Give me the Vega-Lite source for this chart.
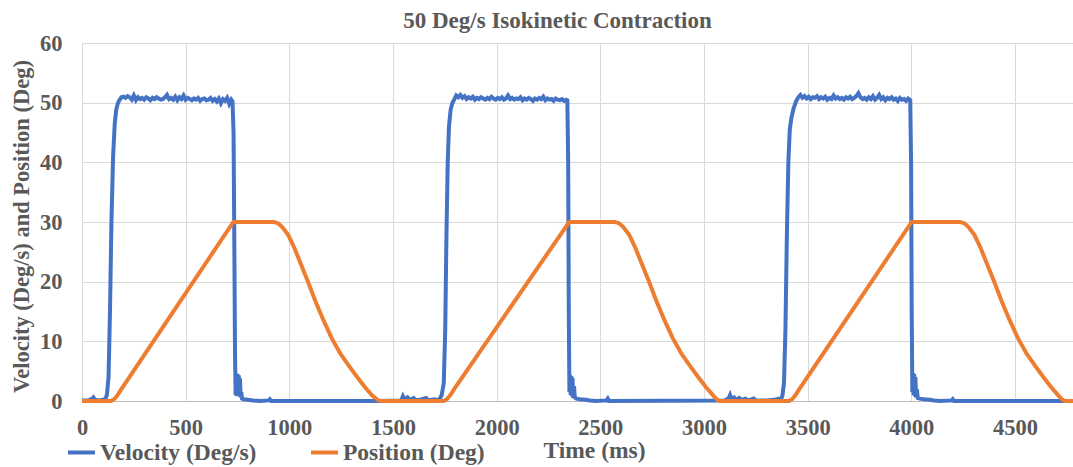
{
  "$schema": "https://vega.github.io/schema/vega-lite/v6.json",
  "width": 991,
  "height": 358,
  "autosize": {"type": "none"},
  "padding": {"left": 82, "top": 43, "right": 0, "bottom": 66},
  "background": "white",
  "title": {
    "text": "50 Deg/s Isokinetic Contraction",
    "font": "Liberation Serif",
    "fontSize": 23,
    "fontWeight": "bold",
    "color": "#595959",
    "anchor": "middle",
    "frame": "group",
    "dx": -20,
    "offset": 0,
    "baseline": "alphabetic",
    "dy": 19
  },
  "datasets": {
    "vel": [
      {"t":0,"y":0.1},{"t":30,"y":0.1},{"t":45,"y":0.3},{"t":55,"y":0.6},{"t":62,"y":0.2},{"t":80,"y":0.1},{"t":100,"y":0.2},{"t":112,"y":0.3},
      {"t":120,"y":1.0},{"t":128,"y":4},{"t":135,"y":15},{"t":142,"y":30},{"t":150,"y":41},{"t":158,"y":46.5},{"t":165,"y":48.8},{"t":172,"y":49.8},
      {"t":180,"y":50.4},{"t":190,"y":50.9},{"t":200,"y":51.0},{"t":210,"y":50.8},{"t":220,"y":51.1},{"t":230,"y":50.9},{"t":240,"y":50.5},{"t":250,"y":51.2},
      {"t":260,"y":50.4},{"t":270,"y":50.9},{"t":280,"y":50.6},{"t":290,"y":50.8},{"t":300,"y":50.5},{"t":310,"y":50.9},{"t":320,"y":50.7},{"t":330,"y":50.4},
      {"t":340,"y":50.8},{"t":350,"y":50.6},{"t":360,"y":50.9},{"t":370,"y":50.7},{"t":380,"y":50.5},{"t":390,"y":50.6},{"t":400,"y":50.9},{"t":410,"y":51.3},
      {"t":420,"y":50.6},{"t":430,"y":50.8},{"t":440,"y":50.5},{"t":450,"y":51.0},{"t":460,"y":50.4},{"t":470,"y":50.9},{"t":480,"y":50.6},{"t":490,"y":51.2},
      {"t":500,"y":50.5},{"t":510,"y":50.8},{"t":520,"y":50.6},{"t":530,"y":50.4},{"t":540,"y":50.7},{"t":550,"y":50.5},{"t":560,"y":50.8},{"t":570,"y":50.3},
      {"t":580,"y":50.6},{"t":590,"y":50.7},{"t":600,"y":50.4},{"t":610,"y":50.5},{"t":620,"y":50.8},{"t":630,"y":50.3},{"t":640,"y":50.6},{"t":650,"y":50.2},
      {"t":660,"y":50.7},{"t":670,"y":49.9},{"t":680,"y":50.6},{"t":690,"y":50.3},{"t":700,"y":50.8},{"t":710,"y":49.8},{"t":720,"y":50.5},{"t":726,"y":50.2},
      {"t":731,"y":45},{"t":735,"y":25},{"t":738,"y":8},{"t":741,"y":1.0},{"t":744,"y":4.6},{"t":747,"y":0.8},{"t":750,"y":4.5},{"t":753,"y":1.2},
      {"t":756,"y":4.3},{"t":759,"y":0.9},{"t":762,"y":3.8},{"t":765,"y":0.6},{"t":768,"y":1.5},{"t":772,"y":0.4},{"t":780,"y":0.3},{"t":800,"y":0.2},
      {"t":825,"y":0.1},{"t":860,"y":0},{"t":900,"y":0.1},{"t":906,"y":0.3},{"t":912,"y":0},{"t":1440,"y":0},
      {"t":1540,"y":0.1},{"t":1548,"y":0.8},{"t":1556,"y":0.3},{"t":1570,"y":0.6},{"t":1580,"y":0.2},{"t":1600,"y":0.5},{"t":1612,"y":0.1},{"t":1640,"y":0.3},
      {"t":1660,"y":0.5},{"t":1670,"y":0.1},{"t":1700,"y":0.3},{"t":1715,"y":0.1},{"t":1726,"y":0.4},{"t":1735,"y":1.0},{"t":1745,"y":3},{"t":1752,"y":12},
      {"t":1758,"y":28},{"t":1764,"y":40},{"t":1770,"y":46},{"t":1778,"y":48.8},{"t":1786,"y":49.9},
      {"t":1795,"y":50.5},{"t":1805,"y":51.2},{"t":1815,"y":50.9},{"t":1825,"y":51.3},{"t":1835,"y":50.8},{"t":1845,"y":51.1},{"t":1855,"y":50.6},{"t":1865,"y":50.9},
      {"t":1875,"y":50.7},{"t":1885,"y":51.0},{"t":1895,"y":50.5},{"t":1905,"y":50.8},{"t":1915,"y":50.6},{"t":1925,"y":50.9},{"t":1935,"y":50.7},{"t":1945,"y":50.5},
      {"t":1955,"y":50.8},{"t":1965,"y":50.6},{"t":1975,"y":51.0},{"t":1985,"y":50.7},{"t":1995,"y":50.5},{"t":2005,"y":50.8},{"t":2015,"y":50.6},{"t":2025,"y":50.9},
      {"t":2035,"y":50.5},{"t":2045,"y":50.7},{"t":2055,"y":51.2},{"t":2065,"y":50.6},{"t":2075,"y":50.8},{"t":2085,"y":50.5},{"t":2095,"y":50.7},{"t":2105,"y":50.6},
      {"t":2115,"y":50.9},{"t":2125,"y":50.4},{"t":2135,"y":50.7},{"t":2145,"y":50.5},{"t":2155,"y":50.8},{"t":2165,"y":50.6},{"t":2175,"y":50.3},{"t":2185,"y":50.7},
      {"t":2195,"y":50.5},{"t":2205,"y":50.8},{"t":2215,"y":50.6},{"t":2225,"y":51.0},{"t":2235,"y":50.4},{"t":2245,"y":50.7},{"t":2255,"y":50.5},{"t":2265,"y":50.6},
      {"t":2275,"y":50.3},{"t":2285,"y":50.7},{"t":2295,"y":50.5},{"t":2305,"y":50.4},{"t":2315,"y":50.6},{"t":2325,"y":50.3},{"t":2335,"y":50.5},{"t":2341,"y":50.4},
      {"t":2345,"y":40},{"t":2348,"y":15},{"t":2351,"y":1.5},{"t":2354,"y":4.4},{"t":2357,"y":1},{"t":2360,"y":4.2},{"t":2363,"y":0.8},{"t":2366,"y":3.9},
      {"t":2369,"y":0.5},{"t":2373,"y":2.5},{"t":2377,"y":0.6},{"t":2385,"y":0.4},{"t":2400,"y":0.3},{"t":2430,"y":0.2},{"t":2450,"y":0.1},{"t":2480,"y":0},
      {"t":2530,"y":0.1},{"t":2536,"y":0.4},{"t":2542,"y":0},{"t":3100,"y":0.1},{"t":3120,"y":0.5},{"t":3126,"y":1.0},{"t":3132,"y":0.4},{"t":3145,"y":0.6},
      {"t":3155,"y":0.2},{"t":3170,"y":0.5},{"t":3180,"y":0.2},{"t":3200,"y":0.4},{"t":3215,"y":0.1},{"t":3240,"y":0.4},{"t":3250,"y":0.1},{"t":3300,"y":0.1},
      {"t":3340,"y":0.2},{"t":3360,"y":0.4},{"t":3370,"y":0.2},{"t":3378,"y":0.8},{"t":3386,"y":3},{"t":3393,"y":12},{"t":3400,"y":28},{"t":3407,"y":40},
      {"t":3414,"y":45.5},{"t":3422,"y":47.5},{"t":3432,"y":49},
      {"t":3445,"y":50.3},{"t":3455,"y":50.9},{"t":3465,"y":51.3},{"t":3475,"y":50.8},{"t":3485,"y":51.1},{"t":3495,"y":50.7},{"t":3505,"y":51.0},{"t":3515,"y":50.6},
      {"t":3525,"y":50.9},{"t":3535,"y":50.8},{"t":3545,"y":51.1},{"t":3555,"y":50.6},{"t":3565,"y":50.9},{"t":3575,"y":50.7},{"t":3585,"y":51.0},{"t":3595,"y":50.5},
      {"t":3605,"y":50.8},{"t":3615,"y":50.6},{"t":3625,"y":51.2},{"t":3635,"y":50.7},{"t":3645,"y":50.9},{"t":3655,"y":50.6},{"t":3665,"y":50.8},{"t":3675,"y":50.5},
      {"t":3685,"y":50.9},{"t":3695,"y":50.7},{"t":3705,"y":51.0},{"t":3715,"y":50.6},{"t":3725,"y":50.8},{"t":3735,"y":51.1},{"t":3745,"y":51.6},{"t":3755,"y":50.9},
      {"t":3765,"y":50.6},{"t":3775,"y":50.8},{"t":3785,"y":50.5},{"t":3795,"y":50.9},{"t":3805,"y":50.6},{"t":3815,"y":51.1},{"t":3825,"y":50.5},{"t":3835,"y":50.8},
      {"t":3845,"y":51.3},{"t":3855,"y":50.6},{"t":3865,"y":50.9},{"t":3875,"y":50.4},{"t":3885,"y":50.8},{"t":3895,"y":50.6},{"t":3905,"y":50.9},{"t":3915,"y":50.5},
      {"t":3925,"y":50.7},{"t":3935,"y":50.3},{"t":3945,"y":50.8},{"t":3955,"y":50.5},{"t":3965,"y":50.6},{"t":3975,"y":50.3},{"t":3985,"y":50.7},{"t":3995,"y":50.4},
      {"t":3999,"y":40},{"t":4002,"y":15},{"t":4005,"y":1.5},{"t":4008,"y":4.7},{"t":4011,"y":1.0},{"t":4014,"y":4.5},{"t":4017,"y":0.8},{"t":4020,"y":4.0},
      {"t":4023,"y":0.6},{"t":4027,"y":2.0},{"t":4031,"y":0.5},{"t":4040,"y":0.4},{"t":4060,"y":0.3},{"t":4090,"y":0.2},{"t":4110,"y":0.1},{"t":4140,"y":0},
      {"t":4195,"y":0.1},{"t":4200,"y":0.3},{"t":4206,"y":0},{"t":4780,"y":0}
    ],
    "pos": [
      {"t":0,"y":0},{"t":140,"y":0},{"t":155,"y":0.3},{"t":170,"y":0.9},{"t":190,"y":2.0},{"t":730,"y":30},{"t":925,"y":30},
      {"t":945,"y":29.8},{"t":965,"y":29.2},{"t":995,"y":27.8},{"t":1025,"y":25.6},{"t":1055,"y":23.0},{"t":1090,"y":20.0},{"t":1125,"y":16.8},
      {"t":1165,"y":13.5},{"t":1205,"y":10.5},{"t":1245,"y":8.0},{"t":1285,"y":6.0},{"t":1325,"y":4.1},{"t":1365,"y":2.3},{"t":1400,"y":0.9},
      {"t":1425,"y":0.2},{"t":1440,"y":0},{"t":1745,"y":0},{"t":1760,"y":0.3},{"t":1775,"y":0.9},{"t":1795,"y":2.0},{"t":2350,"y":30},{"t":2570,"y":30},
      {"t":2590,"y":29.8},{"t":2610,"y":29.2},{"t":2640,"y":27.8},{"t":2670,"y":25.6},{"t":2700,"y":23.0},{"t":2735,"y":20.0},{"t":2770,"y":16.8},
      {"t":2810,"y":13.5},{"t":2850,"y":10.5},{"t":2890,"y":8.0},{"t":2930,"y":6.0},{"t":2970,"y":4.1},{"t":3010,"y":2.3},{"t":3045,"y":0.9},
      {"t":3065,"y":0.2},{"t":3075,"y":0},{"t":3410,"y":0},{"t":3425,"y":0.3},{"t":3440,"y":0.9},{"t":3460,"y":2.0},{"t":4002,"y":30},{"t":4235,"y":30},
      {"t":4255,"y":29.8},{"t":4275,"y":29.2},{"t":4305,"y":27.8},{"t":4335,"y":25.6},{"t":4365,"y":23.0},{"t":4400,"y":20.0},{"t":4435,"y":16.8},
      {"t":4475,"y":13.5},{"t":4515,"y":10.5},{"t":4555,"y":8.0},{"t":4595,"y":6.0},{"t":4635,"y":4.1},{"t":4675,"y":2.3},{"t":4710,"y":0.9},
      {"t":4730,"y":0.2},{"t":4740,"y":0},{"t":4780,"y":0}
    ]
  },
  "encoding": {
    "x": {
      "field": "t",
      "type": "quantitative",
      "scale": {"domain": [0, 4780], "nice": false, "zero": false},
      "axis": {
        "values": [0, 500, 1000, 1500, 2000, 2500, 3000, 3500, 4000, 4500],
        "format": "d",
        "title": "Time (ms)",
        "titleX": 512,
        "titleY": 56,
        "titleAlign": "center",
        "titleBaseline": "alphabetic",
        "titleFont": "Liberation Serif",
        "titleFontSize": 23.5,
        "titleFontWeight": "bold",
        "titleColor": "#595959",
        "labelFont": "Liberation Serif",
        "labelFontSize": 22.5,
        "labelFontWeight": "bold",
        "labelColor": "#595959",
        "labelPadding": 15,
        "labelFlush": false,
        "labelOverlap": false,
        "ticks": false,
        "domain": true,
        "domainColor": "#bfbfbf",
        "domainWidth": 1,
        "grid": true,
        "gridColor": "#d9d9d9",
        "gridWidth": 1
      }
    },
    "y": {
      "field": "y",
      "type": "quantitative",
      "scale": {"domain": [0, 60], "nice": false},
      "axis": {
        "values": [0, 10, 20, 30, 40, 50, 60],
        "title": "Velocity (Deg/s) and Position (Deg)",
        "titleX": -54,
        "titleY": 183,
        "titleAngle": -90,
        "titleAlign": "center",
        "titleBaseline": "alphabetic",
        "titleFont": "Liberation Serif",
        "titleFontSize": 22.5,
        "titleFontWeight": "bold",
        "titleColor": "#595959",
        "labelFont": "Liberation Serif",
        "labelFontSize": 22.5,
        "labelFontWeight": "bold",
        "labelColor": "#595959",
        "labelPadding": 20,
        "labelFlush": false,
        "ticks": false,
        "domain": false,
        "grid": true,
        "gridColor": "#d9d9d9",
        "gridWidth": 1
      }
    },
    "color": {
      "datum": "Velocity (Deg/s)",
      "type": "nominal",
      "scale": {
        "domain": ["Velocity (Deg/s)", "Position (Deg)"],
        "range": ["#4472C4", "#ED7D31"]
      },
      "legend": {
        "title": null,
        "orient": "none",
        "legendX": -16,
        "legendY": 394,
        "direction": "horizontal",
        "symbolType": "stroke",
        "symbolSize": 729,
        "symbolStrokeWidth": 4,
        "labelFont": "Liberation Serif",
        "labelFontSize": 23.5,
        "labelFontWeight": "bold",
        "labelColor": "#595959",
        "labelOffset": 3,
        "columnPadding": 46,
        "padding": 0
      }
    }
  },
  "layer": [
    {
      "data": {"name": "vel"},
      "mark": {"type": "line", "strokeWidth": 4, "interpolate": "linear"},
      "encoding": {"color": {"datum": "Velocity (Deg/s)", "type": "nominal"}}
    },
    {
      "data": {"name": "pos"},
      "mark": {"type": "line", "strokeWidth": 4, "interpolate": "linear"},
      "encoding": {"color": {"datum": "Position (Deg)", "type": "nominal"}}
    }
  ],
  "config": {
    "view": {"stroke": null}
  }
}
